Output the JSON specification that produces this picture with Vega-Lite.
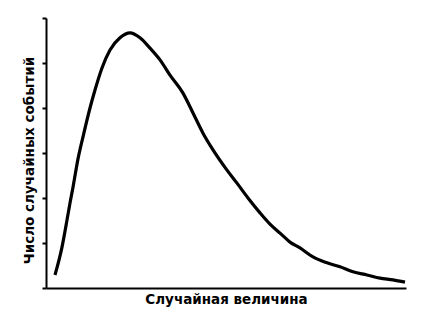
{
  "$schema": "https://vega.github.io/schema/vega-lite/v6.json",
  "width": 360,
  "height": 270,
  "autosize": {"type": "none"},
  "padding": {"left": 46, "top": 18, "right": 17, "bottom": 46},
  "background": "white",
  "config": {"view": {"stroke": null}},
  "data": {"values": [
    {"x": 9, "y": 0.29}, {"x": 16, "y": 0.91}, {"x": 21, "y": 1.51}, {"x": 24, "y": 1.89},
    {"x": 27, "y": 2.24}, {"x": 32, "y": 2.87}, {"x": 37, "y": 3.36}, {"x": 44, "y": 4.0},
    {"x": 49, "y": 4.4}, {"x": 56, "y": 4.89}, {"x": 64, "y": 5.29}, {"x": 74, "y": 5.56},
    {"x": 84, "y": 5.67}, {"x": 94, "y": 5.56}, {"x": 104, "y": 5.33}, {"x": 114, "y": 5.07},
    {"x": 124, "y": 4.73}, {"x": 137, "y": 4.33}, {"x": 147, "y": 3.89}, {"x": 157, "y": 3.44},
    {"x": 167, "y": 3.07}, {"x": 181, "y": 2.62}, {"x": 191, "y": 2.33}, {"x": 202, "y": 2.0},
    {"x": 214, "y": 1.67}, {"x": 224, "y": 1.42}, {"x": 234, "y": 1.22}, {"x": 244, "y": 1.02},
    {"x": 254, "y": 0.89}, {"x": 267, "y": 0.69}, {"x": 281, "y": 0.56}, {"x": 294, "y": 0.47},
    {"x": 307, "y": 0.36}, {"x": 321, "y": 0.29}, {"x": 334, "y": 0.22}, {"x": 347, "y": 0.18},
    {"x": 359, "y": 0.13}
  ]},
  "mark": {"type": "line", "color": "black", "strokeWidth": 3.2, "interpolate": "monotone"},
  "encoding": {
    "x": {
      "field": "x", "type": "quantitative",
      "scale": {"domain": [0, 360], "nice": false, "zero": false},
      "axis": {
        "title": "Случайная величина", "labels": false, "ticks": false, "grid": false,
        "domainColor": "black", "domainWidth": 2,
        "titleFont": "DejaVu Sans", "titleFontSize": 13.5, "titleFontWeight": "bold",
        "titleColor": "black", "titlePadding": 4
      }
    },
    "y": {
      "field": "y", "type": "quantitative",
      "scale": {"domain": [0, 6], "nice": false},
      "axis": {
        "title": "Число случайных событий", "labels": false, "grid": false,
        "values": [0, 1, 2, 3, 4, 5, 6],
        "ticks": true, "tickSize": 4, "tickWidth": 2, "tickColor": "black",
        "domainColor": "black", "domainWidth": 2,
        "titleFont": "DejaVu Sans", "titleFontSize": 13.5, "titleFontWeight": "bold",
        "titleColor": "black", "titlePadding": 5, "titleY": 142
      }
    }
  }
}
